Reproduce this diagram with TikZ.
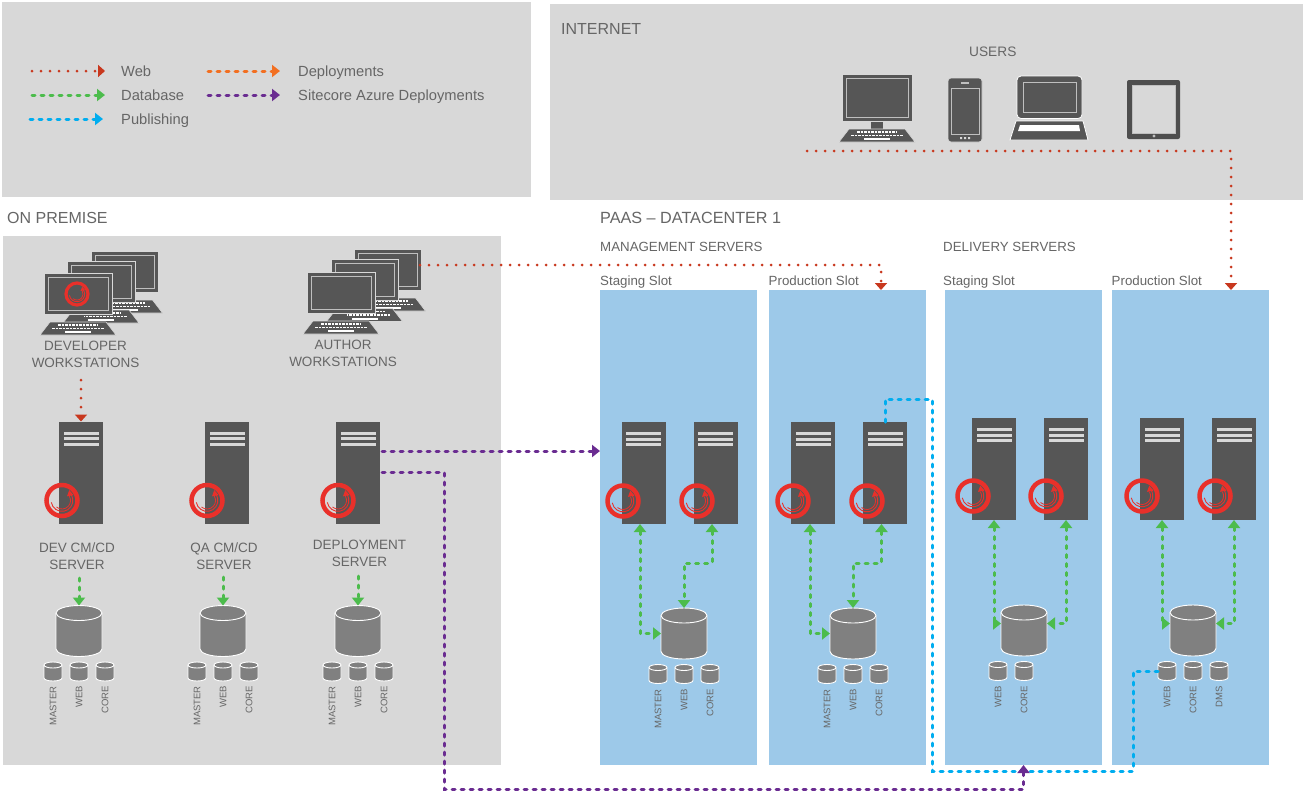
\documentclass[tikz,border=0pt]{standalone}
\usepackage{fontspec}
\setmainfont{Liberation Sans}
\usetikzlibrary{arrows.meta}
\definecolor{panelgray}{HTML}{D8D8D8}
\definecolor{panelblue}{HTML}{9DC9E9}
\definecolor{iconfill}{HTML}{565656}
\definecolor{dbfill}{HTML}{808080}
\definecolor{labelgray}{HTML}{666666}
\definecolor{webred}{HTML}{C8381E}
\definecolor{dbgreen}{HTML}{4CBC4C}
\definecolor{pubblue}{HTML}{00ADEF}
\definecolor{deporange}{HTML}{F26F21}
\definecolor{azpurple}{HTML}{6A2C91}
\definecolor{ringred}{HTML}{E9302A}
\tikzset{
  panel/.style={fill=#1,inner sep=0pt,outer sep=0pt},
  toptext/.style={anchor=base west,inner sep=0pt,text=labelgray,font=\fontsize{#1}{#1}\selectfont},
  midtext/.style={align=center,inner sep=0pt,text=labelgray,font=\fontsize{13.5}{16.5}\selectfont},
  dbtext/.style={rotate=90,anchor=east,inner sep=0pt,text=labelgray,font=\fontsize{9.5}{10}\selectfont},
  serverbody/.style={fill=iconfill,minimum width=44pt,minimum height=102pt,inner sep=0pt,outer sep=0pt},
  dbbig/.style={inner sep=0pt,outer sep=0pt,minimum width=46pt,minimum height=51pt},
  dbsmall/.style={inner sep=0pt,outer sep=0pt,minimum width=18pt,minimum height=19pt},
  flowtip/.style={Triangle[length=8pt,width=12pt]},
  dashflow/.style={line width=3pt,line cap=round,dash pattern=on 3pt off 6pt},
  webline/.style={webred,line width=3pt,line cap=round,dash pattern=on 0pt off 9pt,-{Triangle[length=7pt,width=12pt]}},
  dbline/.style={dbgreen,dashflow,{Triangle[length=8pt,width=12pt]}-{Triangle[length=8pt,width=12pt]}},
  dbone/.style={dbgreen,dashflow,-{Triangle[length=8pt,width=12pt]}},
  publine/.style={pubblue,dashflow,-{Triangle[length=8pt,width=12pt]}},
  depline/.style={deporange,dashflow,-{Triangle[length=8pt,width=12pt]}},
  azline/.style={azpurple,dashflow,-{Triangle[length=8pt,width=12pt]}},
}
% sitecore ring
\newcommand{\scring}[3]{%
  \draw[ringred,line width=#3*0.29pt] (#1,#2) circle (#3);
  \draw[ringred,line width=.9pt] ([shift={(#1,#2)}] 170:#3*0.7) arc (170:-40:#3*0.7);
  \draw[ringred,line width=.8pt] ([shift={(#1,#2)}] 130:#3*0.55) arc (130:-30:#3*0.55);
  \fill[ringred] ([shift={(#1,#2)}] -40:#3*0.42) -- ([shift={(#1,#2)}] -25:#3*0.82) -- ([shift={(#1,#2)}] -55:#3*0.82) -- cycle;
}
% tower with stripes
\newcommand{\serverat}[3]{%
  \node[serverbody] (#1) at (#2,#3) {};
  \foreach \k in {-39.5,-34,-28.5}
    \fill[panelgray] (#2-17.5,#3+\k-1.5) rectangle (#2+17.5,#3+\k+1.5);
}
% drum: name, x, y, style, half width, half height, curve
\newcommand{\drumat}[7]{%
  \node[#4] (#1) at (#2,#3) {};
  \fill[dbfill,draw=white,line width=.9pt] (#2-#5,#3-#6+#7) arc (180:360:#5 and #7) -- (#2+#5,#3+#6-#7) arc (0:180:#5 and #7) -- cycle;
  \draw[white,line width=.9pt] (#2-#5,#3-#6+#7) arc (180:0:#5 and #7);
}
\newcommand{\bigdrum}[3]{\drumat{#1}{#2}{#3}{dbbig}{23}{25.5}{7.5}}
\newcommand{\smalldrum}[3]{\drumat{#1}{#2}{#3}{dbsmall}{9}{9.5}{3}}
% x of left edge, y of top edge, width, height
\newcommand{\monitorat}[4]{%
  \begin{scope}[shift={(#1,#2)}]
    \fill[iconfill,draw=white!85!black,line width=.9pt] (0,0) rectangle (#3,#4);
    \draw[white!75!black,line width=.9pt] (4,4) rectangle (#3-4,#4-4);
    \fill[iconfill] (#3/2-6,#4+.5) rectangle (#3/2+6,#4+8);
    \fill[iconfill,draw=white!85!black,line width=.6pt] (#3/2-28,#4+8) -- (#3/2+28,#4+8) -- (#3/2+38,#4+21) -- (#3/2-38,#4+21) -- cycle;
    \draw[white,line width=1.6pt,dash pattern=on 2.5pt off 1pt] (#3/2-20,#4+11) -- (#3/2+20,#4+11);
    \draw[white,line width=1.6pt,dash pattern=on 2.5pt off 1pt] (#3/2-26,#4+14.5) -- (#3/2+26,#4+14.5);
    \fill[white] (#3/2-13,#4+17) rectangle (#3/2+13,#4+19);
  \end{scope}
}
\begin{document}
\begin{tikzpicture}[x=1pt,y=-1pt]
  \useasboundingbox (0,0) rectangle (1305,793);
  \fill[white] (0,0) rectangle (1305,793);
  % panels
  \fill[panelgray] (2,2) rectangle (531,197);
  \fill[panelgray] (550,4) rectangle (1303,200);
  \fill[panelgray] (3,236) rectangle (501,765);
  \node[panel=panelblue,minimum width=157pt,minimum height=475pt] (stagemgmt) at (678.5,527.5) {};
  \node[panel=panelblue,minimum width=157pt,minimum height=475pt] (prodmgmt) at (847.5,527.5) {};
  \node[panel=panelblue,minimum width=157pt,minimum height=475pt] (stagedel) at (1023.5,527.5) {};
  \node[panel=panelblue,minimum width=157pt,minimum height=475pt] (proddel) at (1190.5,527.5) {};
  % legend
  \coordinate (wa) at (32,71); \coordinate (wb) at (105,71);
  \coordinate (da) at (32,95); \coordinate (db) at (105,95);
  \coordinate (pa) at (30,119); \coordinate (pb) at (103,119);
  \coordinate (oa) at (208,71); \coordinate (ob) at (280,71);
  \coordinate (za) at (208,95); \coordinate (zb) at (280,95);
  \draw[webline] (wa) -- (wb);
  \draw[dbone] (da) -- (db);
  \draw[publine] (pa) -- (pb);
  \draw[depline] (oa) -- (ob);
  \draw[azline] (za) -- (zb);
  \node[toptext=14.7] (lweb) at (121,76) {Web};
  \node[toptext=14.7] (ldb) at (121,100) {Database};
  \node[toptext=14.7] (lpub) at (121,124) {Publishing};
  \node[toptext=14.7] (ldep) at (298,76) {Deployments};
  \node[toptext=14.7] (laz) at (298,100) {Sitecore Azure Deployments};
  % headings
  \node[toptext=16] (tinet) at (561,34.5) {INTERNET};
  \node[toptext=13.7] (tusers) at (969,56.5) {USERS};
  \node[toptext=16] (tonprem) at (7,223.5) {ON PREMISE};
  \node[toptext=16.2] (tpaas) at (600,223.5) {PAAS – DATACENTER 1};
  \node[toptext=13.3] (tmgmt) at (600,251.5) {MANAGEMENT SERVERS};
  \node[toptext=13.3] (tdel) at (943,251.5) {DELIVERY SERVERS};
  \node[toptext=13.3] (s1) at (600,285.5) {Staging Slot};
  \node[toptext=13.3] (s2) at (768.5,285.5) {Production Slot};
  \node[toptext=13.3] (s3) at (943,285.5) {Staging Slot};
  \node[toptext=13.3] (s4) at (1111.5,285.5) {Production Slot};
  % user devices
  \monitorat{842}{74}{70}{47}
  \fill[iconfill,draw=white!85!black,line width=.7pt,rounded corners=3pt] (948,78) rectangle (982,142);
  \draw[white!75!black,line width=.8pt] (951,88) rectangle (979,134);
  \fill[white!75!black] (961,82) rectangle (969,84);
  \fill[white!85!black] (960,137) rectangle (962,139) (964,137) rectangle (966,139) (968,137) rectangle (970,139);
  \fill[iconfill,draw=white,line width=.8pt,rounded corners=4pt] (1017,118.5) -- (1017,76) -- (1082,76) -- (1082,118.5) -- cycle;
  \draw[white!75!black,line width=.8pt] (1023,82) rectangle (1076,112);
  \fill[iconfill,draw=white,line width=.8pt] (1016,121) -- (1083,121) -- (1088,140) -- (1010,140) -- cycle;
  \fill[white] (1020,125) -- (1079,125) -- (1080,131) -- (1018,131) -- cycle;
  \fill[iconfill!90!black,rounded corners=2pt] (1127,80) rectangle (1180,139);
  \fill[panelgray,draw=white!75!black,line width=.8pt] (1132,85) rectangle (1175,133);
  \fill[white!75!black] (1154,136) circle (1.7);
  % workstations
  \monitorat{91}{251}{67}{41}
  \monitorat{67}{261}{68}{41}
  \monitorat{44}{273}{68}{41}
  \scring{77}{294}{11}
  \monitorat{354}{249}{67}{41}
  \monitorat{331}{259.5}{67}{41}
  \monitorat{307}{272}{68}{41}
  \coordinate (devws) at (81,380);
  \coordinate (authws) at (420,265);
  \node[midtext] (tdevws) at (85.5,354.5) {DEVELOPER\\WORKSTATIONS};
  \node[midtext] (tauthws) at (343,353.5) {AUTHOR\\WORKSTATIONS};
  % on premise servers
  \serverat{devsrv}{81}{472.5}
  \serverat{qasrv}{227}{472.5}
  \serverat{depsrv}{358}{472.5}
  \scring{62}{500.5}{15.5}
  \scring{207}{500.5}{15.5}
  \scring{338}{500.5}{15.5}
  \node[midtext] (tdev) at (77,556) {DEV CM/CD\\SERVER};
  \node[midtext] (tqa) at (224,556) {QA CM/CD\\SERVER};
  \node[midtext] (tdep) at (359.5,553.5) {DEPLOYMENT\\SERVER};
  \bigdrum{devdb}{79}{631}
  \bigdrum{qadb}{223}{631}
  \bigdrum{depdb}{358}{631}
  \foreach \nm/\cx in {dv/79,qa/223,dp/358}{
    \smalldrum{\nm a}{\cx-26}{671.5}
    \smalldrum{\nm b}{\cx}{671.5}
    \smalldrum{\nm c}{\cx+26}{671.5}
    \node[dbtext] (\nm ta) at (\cx-26,686) {MASTER};
    \node[dbtext] (\nm tb) at (\cx,686) {WEB};
    \node[dbtext] (\nm tc) at (\cx+26,686) {CORE};
  }
  \coordinate (devout) at (79,578);
  \coordinate (qaout) at (223,577);
  \coordinate (depout) at (358,576);
  % management servers
  \serverat{ma}{643.5}{473}
  \serverat{mb}{715.5}{473}
  \serverat{mc}{813}{473}
  \serverat{md}{885}{473}
  \scring{623}{501}{15.5}
  \scring{697}{501}{15.5}
  \scring{793}{501}{15.5}
  \scring{867}{501}{15.5}
  \bigdrum{mgdb}{684}{633.5}
  \bigdrum{pmdb}{853}{633.5}
  \foreach \nm/\cx in {mg/684,pm/853}{
    \smalldrum{\nm a}{\cx-26}{674}
    \smalldrum{\nm b}{\cx}{674}
    \smalldrum{\nm c}{\cx+26}{674}
    \node[dbtext] (\nm ta) at (\cx-26,689) {MASTER};
    \node[dbtext] (\nm tb) at (\cx,689) {WEB};
    \node[dbtext] (\nm tc) at (\cx+26,689) {CORE};
  }
  % delivery servers
  \serverat{ds}{994}{469}
  \serverat{dbs}{1066}{469}
  \serverat{dc}{1162}{469}
  \serverat{dd}{1234}{469}
  \scring{973}{496}{15.5}
  \scring{1046}{496}{15.5}
  \scring{1142}{496}{15.5}
  \scring{1215}{496}{15.5}
  \bigdrum{sddb}{1024}{630.5}
  \bigdrum{pddb}{1193}{630.5}
  \smalldrum{sdb}{998}{671}
  \smalldrum{sdc}{1024}{671}
  \node[dbtext] (sdtb) at (998,686) {WEB};
  \node[dbtext] (sdtc) at (1024,686) {CORE};
  \smalldrum{pdb}{1167}{671}
  \smalldrum{pdc}{1193}{671}
  \smalldrum{pdd}{1219}{671}
  \node[dbtext] (pdtb) at (1167,686) {WEB};
  \node[dbtext] (pdtc) at (1193,686) {CORE};
  \node[dbtext] (pdtd) at (1219,686) {DMS};
  % web traffic
  \coordinate (usersout) at (807,151);
  \draw[webline] (usersout) -| ([xshift=40.5pt]proddel.north);
  \draw[webline] (authws) -| ([xshift=33.5pt]prodmgmt.north);
  \draw[webline] (devws) -- (devsrv.north);
  % database links
  \draw[dbone] (devout) -- (devdb.north);
  \draw[dbone] (qaout) -- (qadb.north);
  \draw[dbone] (depout) -- (depdb.north);
  \draw[dbline] ([xshift=-3.5pt]ma.south) |- (mgdb.west);
  \draw[dbline] ([xshift=-3.5pt]mb.south) -- ++(0,39) -| (mgdb.north);
  \draw[dbline] ([xshift=-3pt]mc.south) |- (pmdb.west);
  \draw[dbline] ([xshift=-3.5pt]md.south) -- ++(0,39) -| (pmdb.north);
  \draw[dbline] (ds.south) |- ([yshift=7pt]sddb.west);
  \draw[dbline] (dbs.south) |- ([yshift=7pt]sddb.east);
  \draw[dbline] (dc.south) |- ([yshift=7pt]pddb.west);
  \draw[dbline] (dd.south) |- ([yshift=7pt]pddb.east);
  % publishing
  \coordinate (pubturn) at (932,399);
  \coordinate (pubfoot) at (932,771);
  \coordinate (pubend) at (1133,771);
  \draw[publine,-] (md.north) |- (pubturn) -- (pubfoot) -- (pubend) |- (pdb.west);
  % azure deployments
  \coordinate (deptop) at (382,451);
  \coordinate (deplow) at (382,472);
  \coordinate (depfoot) at (444,789);
  \draw[azline] (deptop) -- (stagemgmt.west |- deptop);
  \draw[azline] (deplow) -| (depfoot) -| (stagedel.south);
\end{tikzpicture}
\end{document}
